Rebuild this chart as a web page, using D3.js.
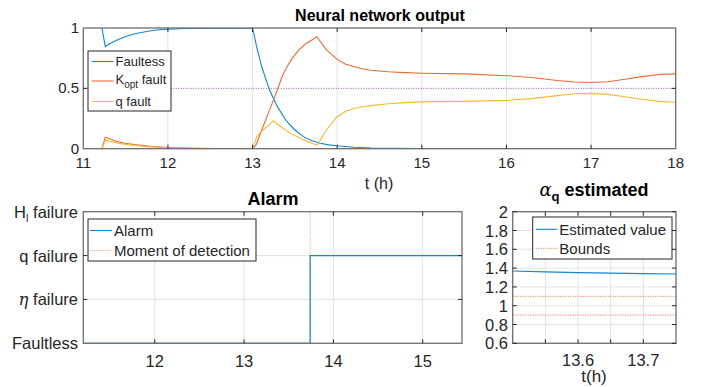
<!DOCTYPE html>
<html>
<head>
<meta charset="utf-8">
<script src="https://cdn.jsdelivr.net/npm/d3@7"></script>
<style>
  body { margin: 0; background: #fff; }
  text { font-family: "Liberation Sans", Arial, Helvetica, sans-serif; fill: #262626; }
</style>
</head>
<body>
<script>
// ---- data ----
// neural network output (top)
var faultlessT = [11.22, 11.26, 11.3, 11.4, 11.5, 11.6, 11.7, 11.8, 11.9, 12.0, 12.2, 12.5, 13.0, 13.05, 13.1, 13.15, 13.2, 13.25, 13.3, 13.4, 13.5, 13.6, 13.7, 13.8, 13.9, 14.0, 14.2, 14.4, 14.7, 15.0, 16.0, 17.0, 18.0];
var faultlessV = [1.0, 0.845, 0.865, 0.90, 0.93, 0.95, 0.965, 0.977, 0.985, 0.99, 0.996, 0.999, 1.0, 0.84, 0.70, 0.59, 0.49, 0.41, 0.34, 0.23, 0.155, 0.10, 0.065, 0.045, 0.032, 0.024, 0.012, 0.006, 0.003, 0.002, 0.001, 0.001, 0.001];

var koptT = [11.22, 11.26, 11.3, 11.4, 11.5, 11.6, 11.8, 12.0, 12.3, 12.6, 13.0, 13.04, 13.1, 13.15, 13.2, 13.24, 13.3, 13.35, 13.4, 13.47, 13.55, 13.63, 13.7, 13.76, 13.87, 14.0, 14.1, 14.27, 14.39, 14.6, 14.8, 15.0, 15.5, 16.0, 16.3, 16.6, 16.8, 17.0, 17.2, 17.4, 17.6, 17.8, 18.0];
var koptV = [0, 0.095, 0.085, 0.06, 0.045, 0.035, 0.02, 0.01, 0.004, 0.001, 0, 0.03, 0.14, 0.23, 0.32, 0.39, 0.50, 0.60, 0.67, 0.75, 0.82, 0.87, 0.90, 0.928, 0.82, 0.74, 0.70, 0.666, 0.65, 0.638, 0.63, 0.625, 0.62, 0.605, 0.59, 0.565, 0.553, 0.548, 0.555, 0.575, 0.597, 0.615, 0.62];

var qT = [11.22, 11.26, 11.3, 11.4, 11.5, 11.6, 11.8, 12.0, 12.3, 12.6, 13.0, 13.05, 13.1, 13.15, 13.2, 13.24, 13.3, 13.4, 13.45, 13.55, 13.63, 13.7, 13.76, 13.8, 13.85, 13.9, 14.0, 14.1, 14.2, 14.27, 14.4, 14.6, 14.8, 15.0, 15.5, 16.0, 16.3, 16.6, 16.8, 17.0, 17.2, 17.4, 17.6, 17.8, 18.0];
var qV = [0, 0.07, 0.063, 0.048, 0.036, 0.027, 0.015, 0.008, 0.003, 0.001, 0, 0.10, 0.14, 0.17, 0.20, 0.232, 0.20, 0.15, 0.127, 0.09, 0.066, 0.045, 0.03, 0.07, 0.13, 0.18, 0.265, 0.31, 0.333, 0.343, 0.357, 0.372, 0.382, 0.388, 0.392, 0.40, 0.415, 0.44, 0.455, 0.458, 0.45, 0.43, 0.41, 0.392, 0.385];

var threshold = 0.5;
var topTicksX = [11, 12, 13, 14, 15, 16, 17, 18];
var topTicksY = [0, 0.5, 1];

// alarm (bottom left)
var alarmT = [11.2, 13.74, 15.44];
var alarmV = [0, 2, 2];
var detectionT = 13.74;
var alarmLevels = ["Faultless", "η failure", "q failure", "H_l failure"];
var alarmTicksX = [12, 13, 14, 15];

// alpha_q estimated (bottom right)
var alphaT = [13.5, 13.55, 13.6, 13.65, 13.7, 13.75];
var alphaV = [1.369, 1.36, 1.352, 1.346, 1.341, 1.337];
var bounds = [0.9, 1.1];
var alphaTicksX = [13.55, 13.6, 13.65, 13.7];
var alphaLabelsX = [13.6, 13.7];
var alphaTicksY = [0.6, 0.8, 1, 1.2, 1.4, 1.6, 1.8, 2];

var C_BLUE = "#1287cc", C_ORANGE = "#ec6a34", C_YELLOW = "#f6b834", C_PURPLE = "#9a55a8";
var C_DETECT = "#f39a78", C_BOUND = "#ff5a4a";

var svg = d3.select("body").append("svg")
  .attr("width", 701)
  .attr("height", 387);

var defs = svg.append("defs");

// draws grid, box and inward ticks for one panel
function panel(id, x, y, xTicks, yTicks, xGrid, yGrid) {
  var g = svg.append("g");
  defs.append("clipPath").attr("id", id)
    .append("rect")
      .attr("x", x.range()[0]).attr("y", y.range()[1])
      .attr("width", x.range()[1] - x.range()[0])
      .attr("height", y.range()[0] - y.range()[1]);

  g.append("g").selectAll("line").data(xGrid).enter().append("line")
    .attr("x1", function(d) { return x(d); }).attr("x2", function(d) { return x(d); })
    .attr("y1", y.range()[0]).attr("y2", y.range()[1])
    .attr("stroke", "#e3e3e3").attr("stroke-width", 1);
  g.append("g").selectAll("line").data(yGrid).enter().append("line")
    .attr("y1", function(d) { return y(d); }).attr("y2", function(d) { return y(d); })
    .attr("x1", x.range()[0]).attr("x2", x.range()[1])
    .attr("stroke", "#e3e3e3").attr("stroke-width", 1);

  var plot = g.append("g").attr("clip-path", "url(#" + id + ")");
  var frameG = svg.append("g");
  frameG.append("rect")
    .attr("x", x.range()[0]).attr("y", y.range()[1])
    .attr("width", x.range()[1] - x.range()[0])
    .attr("height", y.range()[0] - y.range()[1])
    .attr("fill", "none").attr("stroke", "#6e6e6e").attr("stroke-width", 1.3);

  // ticks on all four sides, pointing in
  frameG.append("g").selectAll("line").data(xTicks).enter().append("line")
    .attr("x1", function(d) { return x(d); }).attr("x2", function(d) { return x(d); })
    .attr("y1", y.range()[0]).attr("y2", y.range()[0] - 4)
    .attr("stroke", "#262626");
  frameG.append("g").selectAll("line").data(xTicks).enter().append("line")
    .attr("x1", function(d) { return x(d); }).attr("x2", function(d) { return x(d); })
    .attr("y1", y.range()[1]).attr("y2", y.range()[1] + 4)
    .attr("stroke", "#262626");
  frameG.append("g").selectAll("line").data(yTicks).enter().append("line")
    .attr("y1", function(d) { return y(d); }).attr("y2", function(d) { return y(d); })
    .attr("x1", x.range()[0]).attr("x2", x.range()[0] + 4)
    .attr("stroke", "#262626");
  frameG.append("g").selectAll("line").data(yTicks).enter().append("line")
    .attr("y1", function(d) { return y(d); }).attr("y2", function(d) { return y(d); })
    .attr("x1", x.range()[1]).attr("x2", x.range()[1] - 4)
    .attr("stroke", "#262626");
  return {plot: plot, frame: frameG};
}

function legendBox(x0, y0, w, h) {
  return svg.append("rect")
    .attr("x", x0).attr("y", y0).attr("width", w).attr("height", h)
    .attr("fill", "#fff").attr("stroke", "#262626").attr("stroke-width", 1);
}

// ================= top : neural network output =================
var xTop = d3.scaleLinear().domain([11, 18]).range([83.3, 675.7]);
var yTop = d3.scaleLinear().domain([0, 1]).range([148.7, 28]);
var pTop = panel("clipTop", xTop, yTop, topTicksX.slice(1, -1), topTicksY.slice(1, -1), topTicksX.slice(1, -1), []);

pTop.plot.append("line")
  .attr("x1", xTop(11)).attr("x2", xTop(18))
  .attr("y1", yTop(threshold)).attr("y2", yTop(threshold))
  .attr("stroke", C_PURPLE).attr("stroke-width", 1).attr("stroke-dasharray", "1,1.5");

var lineTop = d3.line()
  .x(function(d) { return xTop(d[0]); })
  .y(function(d) { return yTop(d[1]); });

[[faultlessT, faultlessV, C_BLUE], [koptT, koptV, C_ORANGE], [qT, qV, C_YELLOW]].forEach(function(s) {
  pTop.plot.append("path")
    .datum(d3.zip(s[0], s[1]))
    .attr("d", lineTop)
    .attr("fill", "none").attr("stroke", s[2]).attr("stroke-width", 1.1);
});

svg.append("g").selectAll("text").data(topTicksX).enter().append("text")
  .attr("x", function(d) { return xTop(d); }).attr("y", 168)
  .attr("text-anchor", "middle").attr("font-size", "15px")
  .text(function(d) { return d; });
svg.append("g").selectAll("text").data(topTicksY).enter().append("text")
  .attr("x", 79).attr("y", function(d) { return yTop(d) + 5; })
  .attr("text-anchor", "end").attr("font-size", "15px")
  .text(function(d) { return d; });

svg.append("text").attr("x", 379).attr("y", 189).attr("text-anchor", "middle")
  .attr("font-size", "16px").text("t (h)");
svg.append("text").attr("x", 380).attr("y", 21).attr("text-anchor", "middle")
  .attr("font-size", "16px").attr("font-weight", "bold").style("fill", "#000")
  .text("Neural network output");

// legend
legendBox(88, 51, 83, 60);
var legTop = [["Faultess", C_BLUE, 61.5], ["K", C_ORANGE, 81], ["q fault", C_YELLOW, 101.5]];
legTop.forEach(function(e) {
  svg.append("line").attr("x1", 91.5).attr("x2", 113.5).attr("y1", e[2]).attr("y2", e[2])
    .attr("stroke", e[1]).attr("stroke-width", 1.1);
});
svg.append("text").attr("x", 115.5).attr("y", 66).attr("font-size", "13px").text("Faultess");
var kt = svg.append("text").attr("x", 115.5).attr("y", 84).attr("font-size", "13px");
kt.append("tspan").text("K");
kt.append("tspan").attr("dy", 4).attr("font-size", "10px").text("opt");
kt.append("tspan").attr("dy", -4).text(" fault");
svg.append("text").attr("x", 115.5).attr("y", 106).attr("font-size", "13px").text("q fault");

// ================= bottom left : alarm =================
var xAl = d3.scaleLinear().domain([11.2, 15.44]).range([83.3, 462]);
var yAl = d3.scaleLinear().domain([0, 3]).range([343.3, 211.7]);
var levelIdx = d3.range(alarmLevels.length);
var pAl = panel("clipAl", xAl, yAl, alarmTicksX, levelIdx.slice(1, 3), alarmTicksX, levelIdx.slice(1, 3));

pAl.plot.append("line")
  .attr("x1", xAl(detectionT)).attr("x2", xAl(detectionT))
  .attr("y1", yAl(0)).attr("y2", yAl(3))
  .attr("stroke", C_DETECT).attr("stroke-width", 1).attr("stroke-dasharray", "1,1.2");

pAl.plot.append("path")
  .datum(d3.zip(alarmT, alarmV))
  .attr("d", d3.line().curve(d3.curveStepAfter)
    .x(function(d) { return xAl(d[0]); })
    .y(function(d) { return yAl(d[1]); }))
  .attr("fill", "none").attr("stroke", C_BLUE).attr("stroke-width", 1.2);

svg.append("g").selectAll("text").data(alarmTicksX).enter().append("text")
  .attr("x", function(d) { return xAl(d); }).attr("y", 367)
  .attr("text-anchor", "middle").attr("font-size", "16.5px")
  .text(function(d) { return d; });

svg.append("g").selectAll("text").data(levelIdx).enter().append("text")
  .attr("x", 78).attr("y", function(d) { return yAl(d) + 6; })
  .attr("text-anchor", "end").attr("font-size", "16.5px")
  .each(function(d) {
    var t = d3.select(this), lab = alarmLevels[d];
    if (lab.indexOf("H_l") === 0) {
      t.append("tspan").text("H");
      t.append("tspan").attr("dy", 4).attr("font-size", "11px").text("l");
      t.append("tspan").attr("dy", -4).text(" failure");
    } else if (lab.indexOf("η") === 0) {
      t.append("tspan").attr("font-family", "'DejaVu Serif', serif").attr("font-style", "italic").text("η");
      t.append("tspan").text(lab.slice(1));
    } else {
      t.text(lab);
    }
  });

svg.append("text").attr("x", 273).attr("y", 205).attr("text-anchor", "middle")
  .attr("font-size", "18px").attr("font-weight", "bold").style("fill", "#000").text("Alarm");

legendBox(88, 219, 168, 42);
svg.append("line").attr("x1", 90).attr("x2", 112).attr("y1", 230.5).attr("y2", 230.5)
  .attr("stroke", C_BLUE).attr("stroke-width", 1.1);
svg.append("line").attr("x1", 90).attr("x2", 112).attr("y1", 250.5).attr("y2", 250.5)
  .attr("stroke", C_DETECT).attr("stroke-width", 1).attr("stroke-dasharray", "1,1.2");
svg.append("text").attr("x", 114).attr("y", 236).attr("font-size", "15px").text("Alarm");
svg.append("text").attr("x", 114).attr("y", 256).attr("font-size", "15px").text("Moment of detection");

// ================= bottom right : alpha_q estimated =================
var xA = d3.scaleLinear().domain([13.5, 13.75]).range([512.7, 676]);
var yA = d3.scaleLinear().domain([0.6, 2]).range([343.3, 211.7]);
var pA = panel("clipA", xA, yA, alphaTicksX, alphaTicksY, alphaTicksX, alphaTicksY);

bounds.forEach(function(b) {
  pA.plot.append("line")
    .attr("x1", xA(13.5)).attr("x2", xA(13.75))
    .attr("y1", yA(b)).attr("y2", yA(b))
    .attr("stroke", C_BOUND).attr("stroke-width", 1).attr("stroke-dasharray", "1,1.5");
});
pA.plot.append("path")
  .datum(d3.zip(alphaT, alphaV))
  .attr("d", d3.line()
    .x(function(d) { return xA(d[0]); })
    .y(function(d) { return yA(d[1]); }))
  .attr("fill", "none").attr("stroke", C_BLUE).attr("stroke-width", 1.2);

svg.append("g").selectAll("text").data(alphaLabelsX).enter().append("text")
  .attr("x", function(d) { return xA(d); }).attr("y", 366)
  .attr("text-anchor", "middle").attr("font-size", "16.5px")
  .text(function(d) { return d; });
svg.append("g").selectAll("text").data(alphaTicksY).enter().append("text")
  .attr("x", 508).attr("y", function(d) { return yA(d) + 6; })
  .attr("text-anchor", "end").attr("font-size", "16.5px")
  .text(function(d) { return d; });

svg.append("text").attr("x", 594).attr("y", 382).attr("text-anchor", "middle")
  .attr("font-size", "17px").text("t(h)");

var at = svg.append("text").attr("x", 594).attr("y", 196).attr("text-anchor", "middle")
  .attr("font-size", "18px").attr("font-weight", "bold").style("fill", "#000");
at.append("tspan").attr("font-family", "'DejaVu Serif', serif").attr("font-style", "italic")
  .attr("font-weight", "normal").text("α");
at.append("tspan").attr("dy", 5).attr("font-size", "13px").text("q");
at.append("tspan").attr("dy", -5).text(" estimated");

legendBox(532.7, 217, 139.3, 42);
svg.append("line").attr("x1", 535.7).attr("x2", 557.3).attr("y1", 229.3).attr("y2", 229.3)
  .attr("stroke", C_BLUE).attr("stroke-width", 1.1);
svg.append("line").attr("x1", 535.7).attr("x2", 557.3).attr("y1", 248.3).attr("y2", 248.3)
  .attr("stroke", C_BOUND).attr("stroke-width", 1).attr("stroke-dasharray", "1,1.5");
svg.append("text").attr("x", 559.3).attr("y", 234.5).attr("font-size", "15px").text("Estimated value");
svg.append("text").attr("x", 559.3).attr("y", 253.5).attr("font-size", "15px").text("Bounds");
</script>
</body>
</html>
